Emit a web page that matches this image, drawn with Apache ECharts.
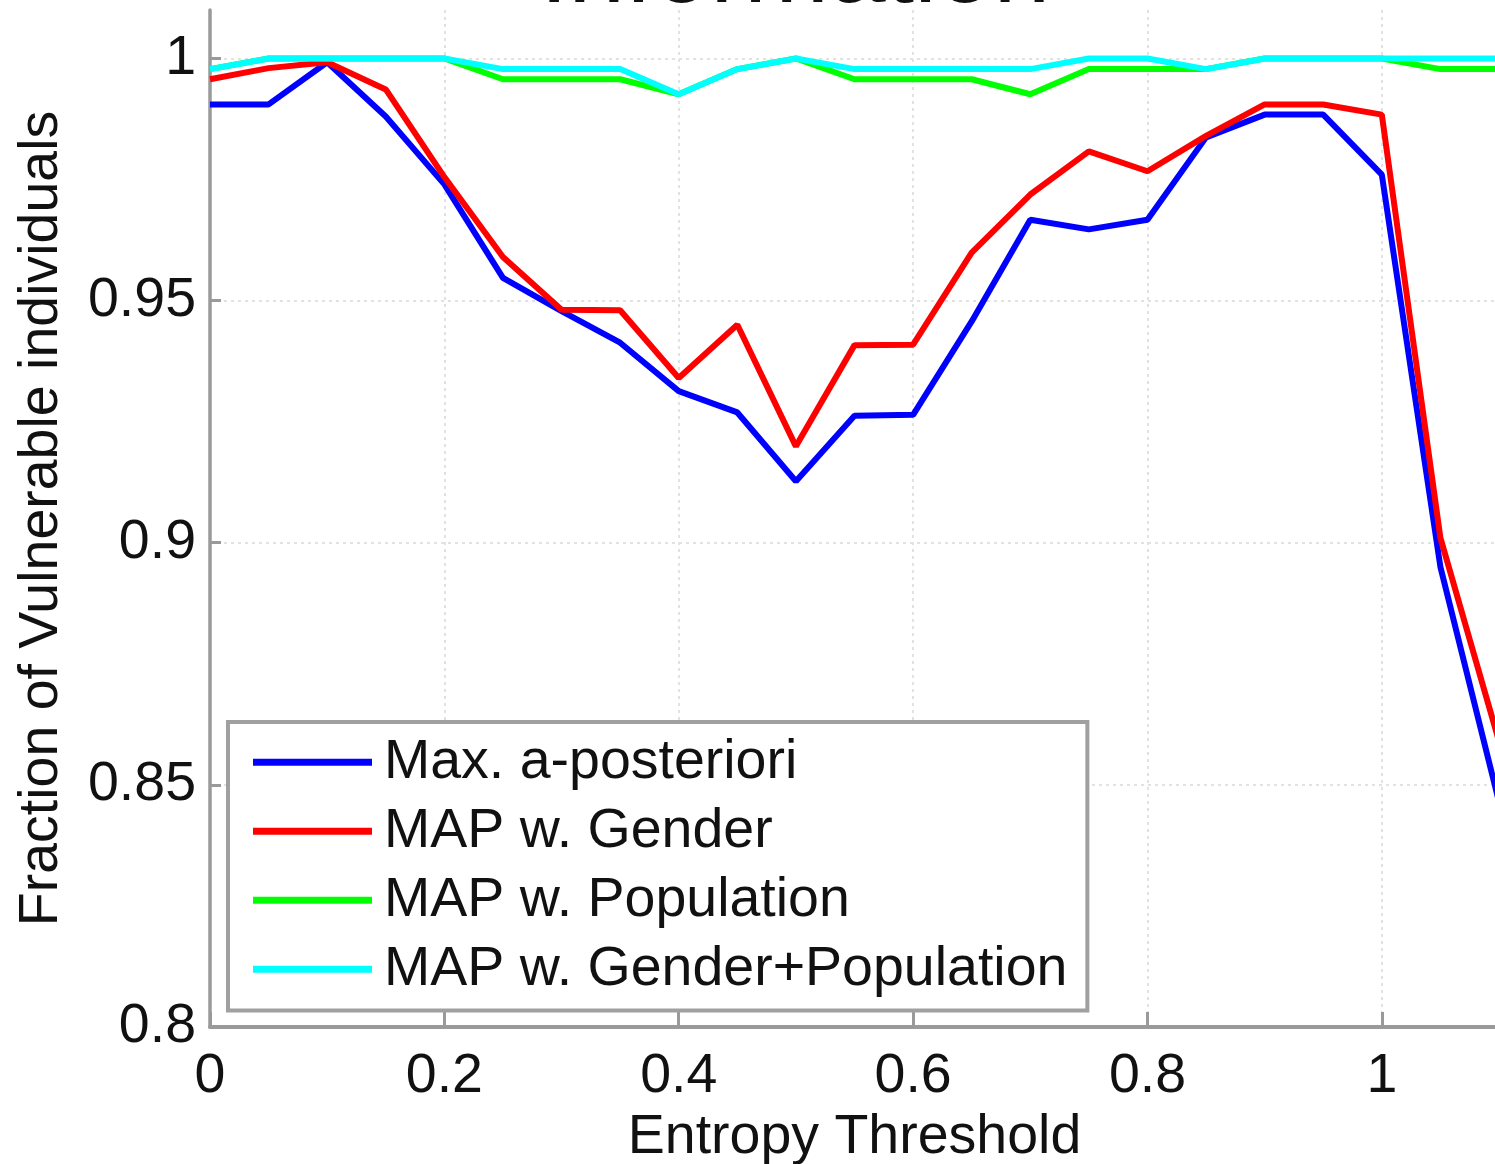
<!DOCTYPE html>
<html>
<head>
<meta charset="utf-8">
<title>Fraction of Vulnerable individuals vs Entropy Threshold</title>
<script src="https://cdn.jsdelivr.net/npm/echarts@6/dist/echarts.min.js"></script>
<style>
  html, body { margin: 0; padding: 0; background: #fff; }
  #chart { width: 1495px; height: 1164px; }
</style>
</head>
<body>
<div id="chart"></div>
<script>
// ── data ──
const thresholds = [0, 0.05, 0.1, 0.15, 0.2, 0.25, 0.3, 0.35, 0.4, 0.45, 0.5, 0.55,
                    0.6, 0.65, 0.7, 0.75, 0.8, 0.85, 0.9, 0.95, 1.0, 1.05, 1.1];

const maxAPosteriori = [0.9905, 0.9905, 0.9992, 0.988, 0.974, 0.9547, 0.9478, 0.9413,
                        0.9313, 0.9269, 0.9127, 0.9262, 0.9264, 0.9457, 0.9667, 0.9647,
                        0.9667, 0.9837, 0.9884, 0.9884, 0.976, 0.895, 0.8465];

const mapGender = [0.9957, 0.998, 0.9992, 0.9936, 0.9755, 0.959, 0.9481, 0.948,
                   0.934, 0.945, 0.9199, 0.9408, 0.9409, 0.9599, 0.9719, 0.9808,
                   0.9767, 0.984, 0.9905, 0.9905, 0.9884, 0.901, 0.859];

const mapPopulation = [0.9978, 1, 1, 1, 1, 0.9957, 0.9957, 0.9957, 0.9926, 0.9978,
                       1, 0.9957, 0.9957, 0.9957, 0.9926, 0.9978, 0.9978, 0.9978,
                       1, 1, 1, 0.9978, 0.9978];

const mapGenderPopulation = [0.9978, 1, 1, 1, 1, 0.9978, 0.9978, 0.9978, 0.9926, 0.9978,
                             1, 0.9978, 0.9978, 0.9978, 0.9978, 1, 1, 0.9978,
                             1, 1, 1, 1, 1];

const seriesNames = ["Max. a-posteriori", "MAP w. Gender", "MAP w. Population", "MAP w. Gender+Population"];
const seriesColors = ["#0000ff", "#ff0000", "#00ff00", "#00ffff"];
const seriesValues = [maxAPosteriori, mapGender, mapPopulation, mapGenderPopulation];

const FONT = "'Liberation Sans', Arial, Helvetica, sans-serif";
const FONT_SIZE = 55.5;
const AXIS_GRAY = "#9a9a9a";

const chart = echarts.init(document.getElementById("chart"), null, { renderer: "canvas" });

const series = seriesNames.map((name, i) => ({
  name,
  type: "line",
  data: thresholds.map((x, k) => [x, seriesValues[i][k]]),
  symbol: "none",
  lineStyle: { width: 6, color: seriesColors[i] },
  itemStyle: { color: seriesColors[i] },
  z: 2 + i,
}));

chart.setOption({
  animation: false,
  backgroundColor: "#fff",
  // title sits mostly above the visible area, only the glyph bottoms show
  title: {
    text: "Information",
    left: 535,
    top: -82,
    textStyle: { fontFamily: FONT, fontSize: 102, fontWeight: "normal", color: "#111" },
  },
  grid: {
    left: 210,
    top: 10,
    width: 1289,
    height: 1017,
    containLabel: false,
    outerBoundsMode: "none",
  },
  legend: {
    orient: "vertical",
    left: 228,
    top: 722,
    padding: [12, 20, 13, 25],
    icon: "rect",
    itemWidth: 119,
    itemHeight: 7,
    itemGap: 12.5,
    selectedMode: false,
    backgroundColor: "#fff",
    borderColor: "#a0a0a0",
    borderWidth: 4,
    textStyle: {
      fontFamily: FONT,
      fontSize: FONT_SIZE,
      lineHeight: 56.5,
      color: "#111",
      padding: [0, 0, 0, 7],
    },
    data: seriesNames,
  },
  xAxis: {
    type: "value",
    min: 0,
    max: 1.1,
    interval: 0.2,
    name: "Entropy Threshold",
    nameLocation: "middle",
    nameGap: 80,
    nameTextStyle: { fontFamily: FONT, fontSize: FONT_SIZE, color: "#111" },
    axisLine: { lineStyle: { color: AXIS_GRAY, width: 4 } },
    axisTick: { inside: true, length: 15, lineStyle: { color: AXIS_GRAY, width: 3 } },
    axisLabel: {
      fontFamily: FONT,
      fontSize: FONT_SIZE,
      color: "#111",
      margin: 22,
      showMaxLabel: false,
    },
    splitLine: {
      show: true,
      showMaxLine: false,
      lineStyle: { color: "#e2e2e2", width: 2, type: [3, 4] },
    },
  },
  yAxis: {
    type: "value",
    min: 0.8,
    max: 1.01,
    interval: 0.05,
    name: "Fraction of Vulnerable individuals",
    nameLocation: "middle",
    nameGap: 140,
    nameTextStyle: { fontFamily: FONT, fontSize: FONT_SIZE, color: "#111" },
    axisLine: { show: true, lineStyle: { color: AXIS_GRAY, width: 3.5 } },
    axisTick: { show: true, inside: true, length: 11, lineStyle: { color: AXIS_GRAY, width: 3 } },
    axisLabel: {
      fontFamily: FONT,
      fontSize: FONT_SIZE,
      color: "#111",
      margin: 14,
      showMaxLabel: false,
    },
    splitLine: {
      show: true,
      showMaxLine: false,
      lineStyle: { color: "#e2e2e2", width: 2, type: [3, 4] },
    },
  },
  series,
});
</script>
</body>
</html>
